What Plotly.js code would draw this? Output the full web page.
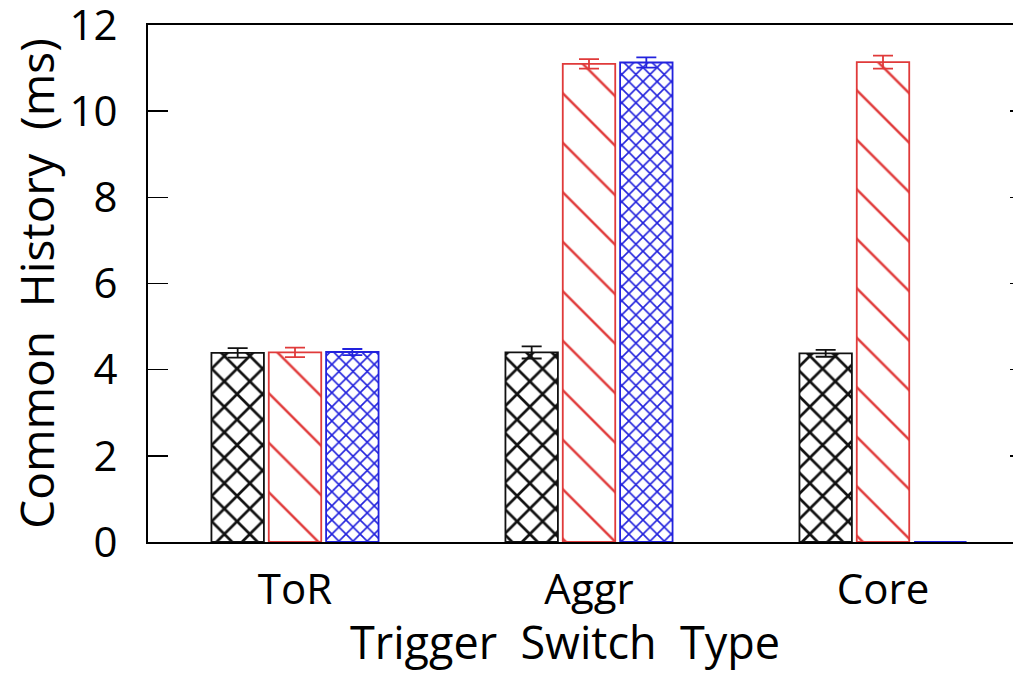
<!DOCTYPE html>
<html>
<head>
<meta charset="utf-8">
<script src="https://cdn.plot.ly/plotly-3.0.1.min.js"></script>
<style>
html, body { margin:0; padding:0; overflow:hidden; background:#fff; }
#chart { width:1040px; height:673px; }
</style>
</head>
<body>
<div id="chart"></div>
<script>
const categories = ['ToR', 'Aggr', 'Core'];
const seriesNames = ['Series A', 'Series B', 'Series C'];
const valuesA = [4.39, 4.40, 4.38];
const errorsA = [0.11, 0.14, 0.08];
const valuesB = [4.40, 11.10, 11.14];
const errorsB = [0.11, 0.11, 0.15];
const valuesC = [4.41, 11.13, 0];
const errorsC = [0.07, 0.12, 0];
const yTicks = [0, 2, 4, 6, 8, 10, 12];
const xTitle = 'Trigger\u00a0 Switch\u00a0 Type';
const yTitle = 'Common\u00a0 History\u00a0 (ms)';

const FONT = 'Open Sans, Noto Sans, sans-serif';

function mk(name, vals, errs, color, shape, size, solidity) {
  return {
    type: 'bar', name: name, x: categories, y: vals,
    marker: {
      color: 'rgba(255,255,255,1)',
      line: { color: color, width: 1.8 },
      pattern: { shape: shape, fgcolor: color, fgopacity: 1, bgcolor: '#ffffff', size: size, solidity: solidity, fillmode: 'overlay' }
    },
    error_y: { type: 'data', array: errs, visible: true, color: color, thickness: 1.8, width: 10 },
    hoverinfo: 'none'
  };
}

const data = [
  mk(seriesNames[0], valuesA, errorsA, '#111111', 'x', 18, 0.28),
  mk(seriesNames[1], valuesB, errorsB, '#e03a3a', '\\', 35, 0.07),
  mk(seriesNames[2], valuesC, errorsC, '#2222dd', 'x', 10, 0.3)
];

const layout = {
  width: 1040, height: 673,
  margin: { l: 148, r: 10, t: 25, b: 131 },
  paper_bgcolor: '#fff', plot_bgcolor: '#fff',
  showlegend: false,
  barmode: 'group',
  bargap: 0.415,
  bargroupgap: 0.085,
  font: { family: FONT, color: '#000', size: 42 },
  xaxis: {
    type: 'category', range: [-0.5, 2.5],
    showline: true, linecolor: '#000', linewidth: 2, mirror: true,
    ticks: '', showgrid: false, zeroline: false,
    tickfont: { family: FONT, size: 42, color: '#000' },
    ticklabelstandoff: 10
  },
  yaxis: {
    range: [0, 12.001], tickvals: yTicks, ticktext: yTicks.map(String),
    showline: true, linecolor: '#000', linewidth: 2, mirror: 'ticks',
    ticks: 'inside', ticklen: 20, tickwidth: 1.5, tickcolor: '#000',
    showgrid: false, zeroline: false,
    ticklabeloverflow: 'allow',
    tickfont: { family: FONT, size: 42, color: '#000' },
    ticklabelstandoff: 20,
    title: { text: yTitle, font: { family: FONT, size: 46, color: '#000' }, standoff: 0 }
  },
  annotations: [{
    text: xTitle, xref: 'paper', yref: 'paper', x: 0.473, y: -0.13,
    xanchor: 'center', yanchor: 'top', showarrow: false,
    font: { family: FONT, size: 45, color: '#000' }
  }]
};

Plotly.newPlot('chart', data, layout, { displayModeBar: false, staticPlot: true });
</script>
</body>
</html>
